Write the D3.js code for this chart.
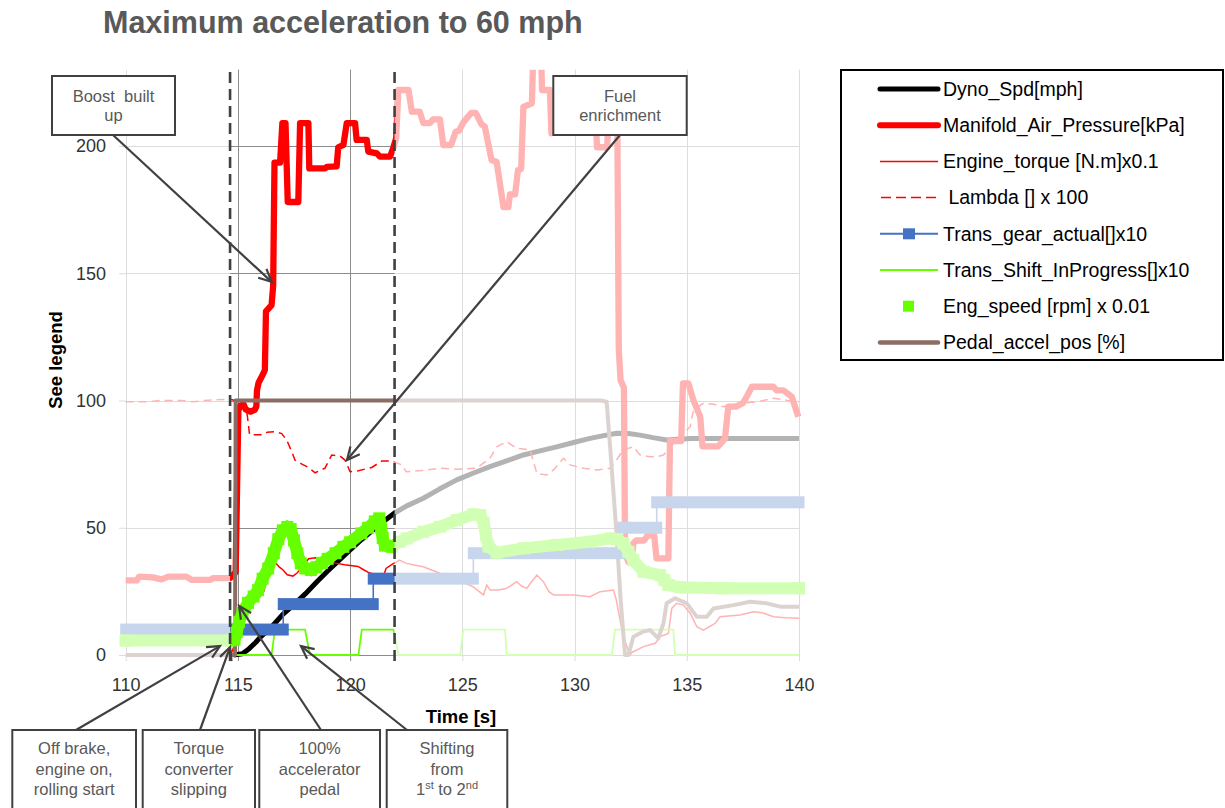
<!DOCTYPE html>
<html>
<head>
<meta charset="utf-8">
<script src="https://cdn.jsdelivr.net/npm/d3@7"></script>
<style>
  body { margin: 0; background: #ffffff; }
  svg { font-family: "Liberation Sans", Arial, sans-serif; display: block; }
  text { white-space: pre; }
</style>
</head>
<body>
<svg id="chart" width="1225" height="808"></svg>
<script>
// ---------------- data (time [s], value) ----------------
const timeTicks  = [110, 115, 120, 125, 130, 135, 140];
const valueTicks = [0, 50, 100, 150, 200];

const seriesNames = [
  "Dyno_Spd[mph]",
  "Manifold_Air_Pressure[kPa]",
  "Engine_torque [N.m]x0.1",
  " Lambda [] x 100",
  "Trans_gear_actual[]x10",
  "Trans_Shift_InProgress[]x10",
  "Eng_speed [rpm] x 0.01",
  "Pedal_accel_pos [%]"
];

const dynoSpd = [
  [114.8,0],[115.2,0.5],[115.5,2.5],[115.8,5],[116.0,7],[116.5,11],[117.0,16],[117.5,19.8],
  [118.0,24],[118.5,28.6],[119.0,33],[119.5,37.2],[120.0,41.3],[120.5,45.3],[121.0,49],
  [121.5,52.6],[121.98,55.8],[122.5,58.5],[123.26,61.6],[124.0,65.3],[124.75,68.8],[125.5,71.5],
  [126.23,74],[127.0,76.4],[127.72,78.6],[128.5,80.3],[129.2,81.8],[130.0,83.6],[130.69,85.1],
  [131.3,86.2],[131.88,87.1],[132.4,87],[132.92,86.4],[133.5,85.4],[134.1,84.5],[134.6,84.8],
  [135.2,85.1],[140,85.1]
];

const manifoldAirPressure = [
  [110,29.3],[110.5,29.3],[110.6,30.8],[111.2,30.5],[111.6,29.7],[111.9,30.8],[112.7,30.8],
  [112.95,29.5],[113.75,29.5],[113.9,30.2],[114.65,30.2],[114.9,32.5],[114.97,70],[115.02,96],
  [115.1,98],[115.25,98.5],[115.35,96.5],[115.55,95.6],[115.75,96.3],[115.82,97.6],[115.85,104],
  [115.92,107],[116.1,110],[116.2,112],[116.25,135],[116.5,137.5],[116.57,145],[116.63,193.5],
  [116.88,193.5],[116.98,209],[117.12,209],[117.22,178],[117.69,178],[117.77,209],[118.14,209],
  [118.18,191.2],[118.88,191.2],[118.96,191.8],[119.4,192],[119.47,199.5],[119.7,200.4],
  [119.85,209],[120.22,209],[120.29,202.4],[120.74,202.4],[120.81,197.8],[121.19,197.1],
  [121.33,195.8],[121.78,195.8],[121.93,199.5],[122.05,203],[122.15,222],[122.6,222],
  [122.75,213.5],[123.1,213.5],[123.26,209],[123.56,209],[123.7,210.5],[124.0,210.5],
  [124.15,200.4],[124.5,200.4],[124.7,205.6],[124.85,206],[125.05,209.4],[125.4,213],
  [125.6,213],[125.86,208.4],[126.0,207.7],[126.3,194.5],[126.53,193.7],[126.83,176],
  [127.05,176],[127.12,181],[127.35,181],[127.48,190.6],[127.62,191],[127.72,215.4],
  [128.1,216.8],[128.17,240],[128.5,240],[128.55,222],[128.9,222],[128.97,205],[129.3,212],
  [130.2,213],[130.95,210],[131.0,199.5],[131.45,199.5],[131.55,216],[131.9,216],[131.97,120],
  [132.05,108],[132.2,105],[132.25,40],[132.4,36.5],[132.55,37],[132.62,44],[132.75,45],
  [133.1,45],[133.25,47],[133.55,47],[133.65,38],[134.18,38],[134.25,84],[134.75,84],
  [134.83,106.7],[135.07,106.7],[135.3,100],[135.6,93.6],[135.7,82],[136.4,82],[136.7,85],
  [136.85,97.6],[137.2,97.6],[137.5,99],[137.67,101.5],[137.9,105.4],[138.86,105.4],
  [139.0,104],[139.3,104],[139.68,101.5],[139.97,93.6]
];

const engineTorque = [
  [114.7,0.5],[114.85,4],[115.0,12],[115.2,17],[115.5,20.5],[115.75,21.8],[116.0,23],[116.15,25],
  [116.35,31],[116.55,35.5],[116.7,36],[116.85,34.5],[117.0,33.5],[117.2,31.5],[117.45,31],
  [117.65,32.3],[117.9,35],[118.15,37.8],[118.45,38.2],[118.85,37.3],[119.3,36.2],[119.75,35.5],
  [120.35,34.8],[120.6,33.5],[120.85,32.3],[121.15,31.5],[121.4,28.8],[121.6,34],[121.85,35.5],
  [122.2,37.3],[122.5,36],[122.8,35.5],[123.26,34.7],[123.6,33.5],[124.0,32.1],[124.4,30.8],
  [124.75,29.5],[125.1,28.3],[125.49,26.8],[125.94,23.6],[126.09,27.5],[126.23,25.5],[126.6,25.5],
  [126.98,26.2],[127.2,27.5],[127.42,28.8],[127.65,27],[127.87,26.2],[128.1,29],[128.32,31.4],
  [128.61,28.8],[128.85,25],[129.06,23.6],[129.95,23.6],[130.69,22.9],[131.14,24.9],[131.73,25.5],
  [131.85,22],[132.17,7.2],[132.47,0],[132.55,1],[133.07,3.3],[133.6,4.6],[133.81,7.2],[134.18,8.5],
  [134.33,18.3],[134.55,20.3],[134.85,19.6],[135.15,16.4],[135.45,11.1],[135.74,9.8],[136.26,12.4],
  [136.48,15],[137.37,15.7],[137.97,17],[138.4,16.5],[138.86,15],[139.4,14.6],[140,14.4]
];

const lambda = [
  [110,99.5],[111,99.5],[111.5,100],[112.5,100],[113,99.5],[113.5,100],[114,100.3],[114.65,100.5],
  [115.3,99],[115.42,94],[115.52,86.5],[116.1,86.5],[116.3,87.5],[116.65,87.7],[116.95,87],
  [117.17,84.5],[117.4,79.9],[117.54,76.6],[117.85,75],[118.14,73.7],[118.44,71.6],[118.88,73.4],
  [119.18,78.6],[119.55,78.2],[119.77,76.6],[120.0,72],[120.37,72.4],[120.96,73.7],[121.41,76.2],
  [121.85,76.3],[122.3,74.7],[122.5,72],[123.2,72.5],[124.0,73.4],[124.75,73],[125.64,73.4],
  [126.23,77.3],[126.53,81.8],[126.98,83.8],[127.42,81.2],[128.02,80.6],[128.2,75],[128.32,71.4],
  [128.76,70.7],[129.1,73],[129.5,77.3],[129.8,74.7],[130.39,73.4],[130.99,72.7],[131.58,73.4],
  [131.9,77],[132.17,80.6],[132.62,81.8],[132.92,78.6],[133.37,77.9],[133.67,77.9],[133.96,78.6],
  [134.3,82],[134.71,85.8],[135.15,89.7],[135.3,96.3],[135.74,98.9],[136.2,98.5],[136.63,97.6],
  [137.37,98.9],[138.12,99.5],[138.86,100.9],[139.5,100],[140,99.5]
];

// gear held between consecutive boundary times
const gearBoundaries = [110, 117.02, 121.03, 125.49, 132.14, 133.66, 140];
const gearValues     = [10, 20, 30, 40, 50, 60];

const shiftInProgress = [
  [110,0],[116.5,0],[116.65,10],[117.99,10],[118.21,0],[120.37,0],[120.52,10],[121.93,10],
  [122.15,0],[124.9,0],[125.04,10],[126.9,10],[126.98,0],[131.66,0],[131.8,10],[134.4,10],
  [134.48,0],[140,0]
];

const engSpeed = [
  [110,5.7],[114.65,5.7],[114.85,6],[114.95,9],[115.05,13],[115.2,16.5],[115.45,20.5],[115.7,23],
  [115.9,25.5],[116.1,30],[116.35,34],[116.6,40],[116.8,45.5],[117.0,49],[117.2,50.3],[117.35,49.5],
  [117.5,45],[117.65,40],[117.8,36],[118.0,34],[118.25,33.4],[118.5,34.5],[118.75,36.2],[119.0,37.8],
  [119.35,40],[119.7,42.5],[120.0,44.3],[120.5,47.8],[120.8,50],[121.1,52.5],[121.3,53.7],
  [121.38,50],[121.45,46],[121.55,43],[121.85,42.5],[122.2,44.5],[122.52,45.8],[123.26,48.4],
  [124.0,50.4],[124.75,53],[125.49,55.3],[125.8,55],[125.95,52],[126.05,47],[126.16,42.6],
  [126.53,40.2],[127.72,41.9],[129.2,43.2],[130.69,44.5],[131.58,45.8],[131.9,45.5],[132.17,43.9],
  [132.4,40.5],[132.62,37.3],[133.07,32.7],[133.81,31.4],[134.0,29.5],[134.18,27.5],[134.71,26.6],
  [136.63,26.2],[140,26.2]
];

const pedalPos = [
  [110,0],[114.87,0],[114.9,100],[131.15,100],[131.43,99.5],[131.6,80],[131.85,50],[132.05,22],
  [132.25,0],[132.4,0],[132.62,7.2],[133.07,9.2],[133.37,9.8],[133.73,6.5],[133.96,12.4],
  [134.1,20.3],[134.48,22.3],[135.0,20.3],[135.45,15],[135.89,15],[136.19,18.3],[137.08,19.6],
  [137.82,20.9],[138.56,20.3],[139.16,19],[140,19]
];

// time span highlighted between the dashed markers
const focusWindow = [114.65, 121.98];

// ---------------- layout ----------------
const plot = { left: 125.7, right: 799, top: 69.65, bottom: 655 };
const x = d3.scaleLinear().domain([110, 140]).range([plot.left, plot.right]);
const y = d3.scaleLinear().domain([0, 230]).range([plot.bottom, plot.top]);
const snap = v => Math.round(v) + 0.5;

const colors = {
  dyno: "#000000", map: "#ff0000", torque: "#ff0000", lambda: "#ff0000",
  gear: "#4472c4", shift: "#66ff00", eng: "#66ff00", pedal: "#8b6d64",
  grid: "#8c8c8c", ink: "#404040", note: "#595959"
};

const svg = d3.select("#chart");
svg.append("rect").attr("width", 1225).attr("height", 808).attr("fill", "#fff");

svg.append("defs").append("clipPath").attr("id", "plotClip")
  .append("rect")
  .attr("x", plot.left - 15).attr("y", plot.top)
  .attr("width", plot.right - plot.left + 30).attr("height", plot.bottom - plot.top + 15);

// ---------------- grid and axis lines ----------------
const grid = svg.append("g").attr("stroke", colors.grid).attr("stroke-width", 1);
valueTicks.filter(v => v > 0).forEach(v => {
  grid.append("line").attr("x1", plot.left).attr("x2", plot.right)
    .attr("y1", snap(y(v))).attr("y2", snap(y(v)));
});
timeTicks.filter(t => t > 110).forEach(t => {
  grid.append("line").attr("x1", snap(x(t))).attr("x2", snap(x(t)))
    .attr("y1", plot.top).attr("y2", plot.bottom);
});

const xMarks = svg.append("g").attr("transform", `translate(0,${snap(plot.bottom) - 0.5})`)
  .call(d3.axisBottom(x).tickValues(timeTicks).tickSize(6).tickSizeOuter(0).tickFormat(""));
const yMarks = svg.append("g").attr("transform", `translate(${snap(plot.left) - 0.5},0)`)
  .call(d3.axisLeft(y).tickValues(valueTicks).tickSize(7).tickSizeOuter(0).tickFormat(""));
[xMarks, yMarks].forEach(g => {
  g.selectAll("path, line").attr("stroke", colors.grid).attr("stroke-width", 1);
});

// ---------------- series ----------------
const line = d3.line().x(d => x(d[0])).y(d => y(d[1]));
const series = svg.append("g").attr("clip-path", "url(#plotClip)");

series.append("path").datum(dynoSpd).attr("d", line)
  .attr("fill", "none").attr("stroke", colors.dyno).attr("stroke-width", 5)
  .attr("stroke-linejoin", "round");

series.append("path").datum(manifoldAirPressure).attr("d", line)
  .attr("fill", "none").attr("stroke", colors.map).attr("stroke-width", 6.3)
  .attr("stroke-linejoin", "round");

series.append("path").datum(engineTorque).attr("d", line)
  .attr("fill", "none").attr("stroke", colors.torque).attr("stroke-width", 1.5);

series.append("path").datum(lambda).attr("d", line)
  .attr("fill", "none").attr("stroke", colors.lambda).attr("stroke-width", 1.5)
  .attr("stroke-dasharray", "8,5");

// gear: thin connectors, then dense square markers forming bars
const gearSegments = gearValues.map((g, i) => ({ g, t0: gearBoundaries[i], t1: gearBoundaries[i + 1] }));
const gearLayer = svg.append("g");
gearSegments.slice(1).forEach((s, i) => {
  gearLayer.append("line")
    .attr("x1", x(s.t0)).attr("x2", x(s.t0))
    .attr("y1", y(gearSegments[i].g)).attr("y2", y(s.g))
    .attr("stroke", colors.gear).attr("stroke-width", 1.6);
});
gearLayer.selectAll("rect.bar").data(gearSegments).join("rect")
  .attr("class", "bar")
  .attr("x", d => x(d.t0) - 5.5)
  .attr("width", d => x(d.t1) - x(d.t0) + 11)
  .attr("y", d => y(d.g) - 6)
  .attr("height", 12)
  .attr("fill", colors.gear);

series.append("path").datum(shiftInProgress).attr("d", line)
  .attr("fill", "none").attr("stroke", colors.shift).attr("stroke-width", 1.8);

// engine speed: square markers drawn densely enough to read as a band
const engLayer = svg.append("g").attr("fill", colors.eng);
engLayer.append("path").datum(engSpeed).attr("d", line)
  .attr("fill", "none").attr("stroke", colors.eng).attr("stroke-width", 12)
  .attr("stroke-linecap", "square").attr("stroke-linejoin", "miter").attr("stroke-miterlimit", 1.6);
engLayer.selectAll("rect").data(engSpeed).join("rect")
  .attr("x", d => x(d[0]) - 6).attr("y", d => y(d[1]) - 6)
  .attr("width", 12).attr("height", 12);

series.append("path").datum(pedalPos).attr("d", line)
  .attr("fill", "none").attr("stroke", colors.pedal).attr("stroke-width", 4)
  .attr("stroke-linejoin", "round");

// ---------------- fade everything outside the focus window ----------------
const veil = svg.append("g").attr("fill", "#ffffff").attr("fill-opacity", 0.7);
veil.append("rect").attr("x", 110).attr("y", 60)
  .attr("width", x(focusWindow[0]) - 110).attr("height", 604);
veil.append("rect").attr("x", x(focusWindow[1])).attr("y", 60)
  .attr("width", 815 - x(focusWindow[1])).attr("height", 604);

svg.append("g").selectAll("line").data(focusWindow).join("line")
  .attr("x1", d => x(d)).attr("x2", d => x(d))
  .attr("y1", 72).attr("y2", 663)
  .attr("stroke", colors.ink).attr("stroke-width", 2.6).attr("stroke-dasharray", "11,6");

// ---------------- tick labels ----------------
const xLabels = svg.append("g").attr("transform", `translate(0,${plot.bottom})`)
  .call(d3.axisBottom(x).tickValues(timeTicks).tickSize(0).tickPadding(23.2));
const yLabels = svg.append("g").attr("transform", `translate(${plot.left},0)`)
  .call(d3.axisLeft(y).tickValues(valueTicks).tickSize(0).tickPadding(19.7));
[xLabels, yLabels].forEach(g => {
  g.select(".domain").remove();
  g.attr("font-family", null).attr("font-size", null);
  g.selectAll("text").attr("fill", "#333333").style("font-size", "18px");
});

svg.append("text").attr("x", 461).attr("y", 723).attr("text-anchor", "middle")
  .style("font-size", "18.5px").style("font-weight", "bold").attr("fill", "#000")
  .text("Time [s]");
svg.append("text").attr("transform", "translate(62,360) rotate(-90)").attr("text-anchor", "middle")
  .style("font-size", "18.5px").style("font-weight", "bold").attr("fill", "#000")
  .text("See legend");

svg.append("text").attr("x", 103).attr("y", 33)
  .style("font-size", "30.5px").style("font-weight", "bold").attr("fill", "#595959")
  .text("Maximum acceleration to 60 mph");

// ---------------- callouts ----------------
const notes = [
  { lines: ["Boost  built", "up"], box: [52, 76, 123, 59], base: 101.5, step: 19.5, from: [113, 135], tip: [116.5, 146.6] },
  { lines: ["Fuel", "enrichment"], box: [553.3, 76, 133.4, 59], base: 101.5, step: 19.5, from: [620, 135], tip: [119.86, 76.6] },
  { lines: ["Off brake,", "engine on,", "rolling start"], box: [12.3, 730, 123.7, 90], base: 754, step: 20.5, from: [76, 730], tip: [114.2, 3.5] },
  { lines: ["Torque", "converter", "slipping"], box: [142.7, 730, 112.3, 90], base: 754, step: 20.5, from: [200, 730], tip: [114.65, 3.1] },
  { lines: ["100%", "accelerator", "pedal"], box: [259.3, 730, 120.7, 90], base: 754, step: 20.5, from: [321, 730], tip: [115.05, 19.3] },
  { lines: ["Shifting", "from", "1st to 2nd"], box: [386.7, 730, 120.6, 90], base: 754, step: 20.5, from: [407, 730], tip: [117.81, 3.5] }
];

const callouts = svg.append("g");
notes.forEach(n => {
  const [bx, by, bw, bh] = n.box;
  callouts.append("rect").attr("x", bx).attr("y", by).attr("width", bw).attr("height", bh)
    .attr("fill", "#fff").attr("stroke", colors.ink).attr("stroke-width", 2);
  const cx = bx + bw / 2;
  n.lines.forEach((s, i) => {
    const t = callouts.append("text").attr("x", cx).attr("y", n.base + i * n.step)
      .attr("text-anchor", "middle").attr("fill", colors.note).style("font-size", "16.5px");
    const m = s.match(/^(\d)st to (\d)nd$/);
    if (m) {
      t.append("tspan").text(m[1]);
      t.append("tspan").attr("dy", -6).style("font-size", "11px").text("st");
      t.append("tspan").attr("dy", 6).text(" to " + m[2]);
      t.append("tspan").attr("dy", -6).style("font-size", "11px").text("nd");
    } else {
      t.text(s);
    }
  });
  // arrow from the box to the highlighted point
  const [x1, y1] = n.from;
  const x2 = x(n.tip[0]), y2 = y(n.tip[1]);
  const a = Math.atan2(y2 - y1, x2 - x1), L = 14, phi = 0.45;
  callouts.append("line").attr("x1", x1).attr("y1", y1).attr("x2", x2).attr("y2", y2)
    .attr("stroke", colors.ink).attr("stroke-width", 2.2);
  callouts.append("polyline")
    .attr("points", [
      [x2 - L * Math.cos(a - phi), y2 - L * Math.sin(a - phi)],
      [x2, y2],
      [x2 - L * Math.cos(a + phi), y2 - L * Math.sin(a + phi)]
    ].map(p => p.join(",")).join(" "))
    .attr("fill", "none").attr("stroke", colors.ink).attr("stroke-width", 2.2)
    .attr("stroke-linejoin", "miter");
});

// ---------------- legend ----------------
const legend = svg.append("g");
legend.append("rect").attr("x", 841).attr("y", 70).attr("width", 382).attr("height", 290)
  .attr("fill", "#fff").attr("stroke", "#000").attr("stroke-width", 2);

const swatch = [
  g => g.append("line").attr("x1", 880).attr("x2", 938).attr("stroke", colors.dyno).attr("stroke-width", 5).attr("stroke-linecap", "round"),
  g => g.append("line").attr("x1", 880).attr("x2", 938).attr("stroke", colors.map).attr("stroke-width", 6).attr("stroke-linecap", "round"),
  g => g.append("line").attr("x1", 880).attr("x2", 938).attr("stroke", colors.torque).attr("stroke-width", 1.5),
  g => g.append("line").attr("x1", 881).attr("x2", 938).attr("stroke", colors.lambda).attr("stroke-width", 1.5).attr("stroke-dasharray", "10,5"),
  g => { g.append("line").attr("x1", 880).attr("x2", 938).attr("stroke", colors.gear).attr("stroke-width", 2);
         g.append("rect").attr("x", 903).attr("y", -5.5).attr("width", 12).attr("height", 11).attr("fill", colors.gear); },
  g => g.append("line").attr("x1", 880).attr("x2", 938).attr("stroke", colors.shift).attr("stroke-width", 2),
  g => g.append("rect").attr("x", 903).attr("y", -5.5).attr("width", 11).attr("height", 11).attr("fill", colors.eng),
  g => g.append("line").attr("x1", 880).attr("x2", 938).attr("stroke", colors.pedal).attr("stroke-width", 4.5).attr("stroke-linecap", "round")
];

seriesNames.forEach((name, i) => {
  const row = legend.append("g").attr("transform", `translate(0,${89 + i * 36.2})`);
  swatch[i](row);
  row.append("text").attr("x", 943).attr("y", 6.8).attr("fill", "#000")
    .style("font-size", "19.5px").text(name);
});
</script>
</body>
</html>
